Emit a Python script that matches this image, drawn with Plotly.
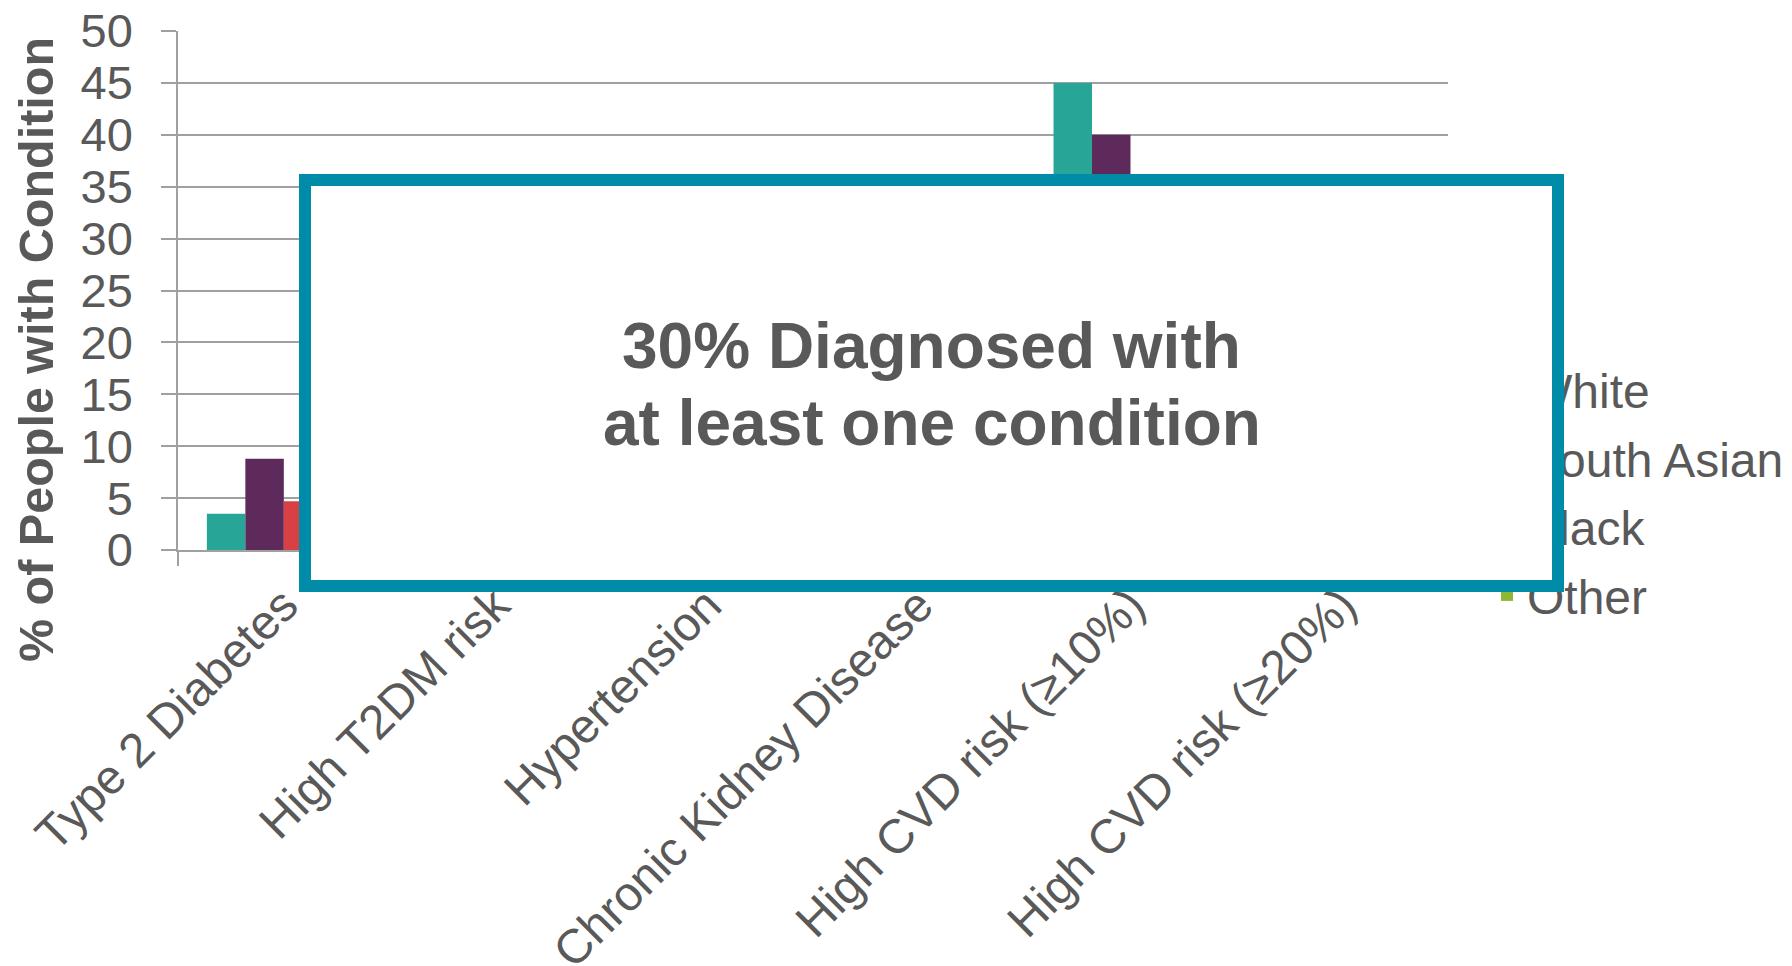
import plotly.graph_objects as go

# ---------------- data ----------------
categories = [
    "Type 2 Diabetes",
    "High T2DM risk",
    "Hypertension",
    "Chronic Kidney Disease",
    "High CVD risk (≥10%)",
    "High CVD risk (≥20%)",
]
series_names = ["White", "South Asian", "Black", "Other"]
white = [3.5, 11.0, 14.0, 3.0, 45.0, 15.0]
south_asian = [8.8, 22.0, 16.0, 4.0, 40.0, 12.0]
black = [4.7, 13.0, 22.0, 3.5, 30.0, 8.0]
other = [4.0, 9.0, 10.0, 2.5, 25.0, 7.0]
series_values = [white, south_asian, black, other]
series_colors = ["#27A697", "#5E2A5C", "#D84143", "#8DB833"]
y_tick_values = [0, 5, 10, 15, 20, 25, 30, 35, 40, 45, 50]
y_title = "% of People with Condition"
box_lines = ["30% Diagnosed with", "at least one condition"]

# ---------------- layout geometry (pixels) ----------------
W, H = 1792, 966
PL, PR, PT, PB = 178, 1448, 31, 550
FONT = "Liberation Sans, Arial, sans-serif"
GREY_TXT = "#595959"
GRID = "#A0A0A0"


def px_x(p):
    return (p - PL) / (PR - PL)


def px_y(p):
    return (PB - p) / (PB - PT)


fig = go.Figure()
for name, vals, col in zip(series_names, series_values, series_colors):
    fig.add_trace(
        go.Bar(
            x=categories,
            y=vals,
            name=name,
            legendgroup=name,
            marker=dict(color=col, line=dict(width=0)),
        )
    )

fig.update_layout(
    width=W,
    height=H,
    margin=dict(l=PL, r=W - PR, t=PT, b=H - PB, pad=0, autoexpand=False),
    paper_bgcolor="white",
    plot_bgcolor="white",
    barmode="group",
    bargap=0.2727,
    bargroupgap=0,
    font=dict(family=FONT, color=GREY_TXT, size=46),
    showlegend=True,
    legend=dict(
        x=px_x(1487),
        xanchor="left",
        y=px_y(352),
        yanchor="top",
        font=dict(size=48, color=GREY_TXT, family=FONT),
        traceorder="grouped",
        tracegroupgap=3,
        bgcolor="rgba(0,0,0,0)",
        borderwidth=0,
    ),
    xaxis=dict(
        type="category",
        categoryorder="array",
        categoryarray=categories,
        showline=True,
        linecolor=GRID,
        linewidth=1.5,
        ticks="outside",
        tickson="boundaries",
        ticklen=14,
        tickwidth=1.5,
        tickcolor=GRID,
        tickangle=-45,
        ticklabelstandoff=6,
        tickfont=dict(size=48, color=GREY_TXT, family=FONT),
        showgrid=False,
        zeroline=False,
    ),
    yaxis=dict(
        range=[0, 50],
        tickvals=y_tick_values,
        showgrid=True,
        gridcolor=GRID,
        gridwidth=1.5,
        showline=True,
        linecolor=GRID,
        linewidth=1.5,
        ticks="outside",
        ticklen=15,
        tickwidth=1.5,
        tickcolor=GRID,
        ticklabelstandoff=19,
        tickfont=dict(size=47, color=GREY_TXT, family=FONT),
        zeroline=False,
    ),
)

# y-axis title (placed like the original, centred on the chart height)
fig.add_annotation(
    text="<b>" + y_title + "</b>",
    xref="paper",
    yref="paper",
    x=px_x(36),
    y=px_y(350),
    xanchor="center",
    yanchor="middle",
    textangle=-90,
    showarrow=False,
    font=dict(size=48.5, color=GREY_TXT, family=FONT),
)

# overlay call-out box (drawn after the legend so it covers it)
fig.add_annotation(
    text=" ",
    xref="paper",
    yref="paper",
    x=px_x(931.5),
    y=px_y(383.4),
    xanchor="center",
    yanchor="middle",
    width=1241,
    height=394,
    showarrow=False,
    bgcolor="white",
    bordercolor="#008BA8",
    borderwidth=12,
    borderpad=0,
    font=dict(size=10, color=GREY_TXT, family=FONT),
)

# call-out text lines
for line, cy in zip(box_lines, [346, 423]):
    fig.add_annotation(
        text="<b>" + line + "</b>",
        xref="paper",
        yref="paper",
        x=px_x(931.5),
        y=px_y(cy),
        xanchor="center",
        yanchor="middle",
        showarrow=False,
        font=dict(size=64, color=GREY_TXT, family=FONT),
    )

fig.write_html(
    "out.html",
    config={"displayModeBar": False},
    post_script="document.body.style.margin='0';document.body.style.overflow='hidden';",
)
